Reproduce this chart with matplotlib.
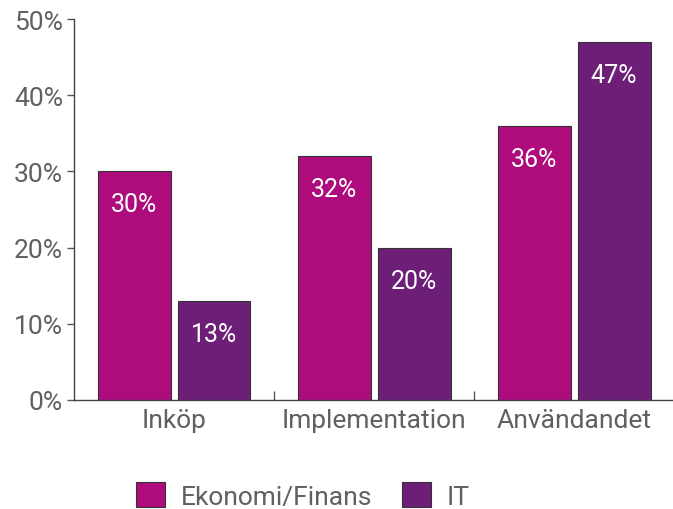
import matplotlib.pyplot as plt
import numpy as np
from matplotlib.patches import Patch

# data
categories = ["Inköp", "Implementation", "Användandet"]
series_names = ["Ekonomi/Finans", "IT"]
ekonomi = [30, 32, 36]
it_vals = [13, 20, 47]
yticks = [0, 10, 20, 30, 40, 50]

col_eko = "#AE0C7D"
col_it = "#6D1F78"
txt_col = "#606060"

plt.rcParams['font.family'] = ['Roboto', 'DejaVu Sans']

fig = plt.figure(figsize=(6.73, 5.10), dpi=100)
ax = fig.add_axes([74 / 673, 109 / 510, 600 / 673, 381 / 510])

x = np.arange(len(categories))
w = 0.365
b1 = ax.bar(x - 0.2, ekonomi, w, color=col_eko, edgecolor="#333333", linewidth=0.8)
b2 = ax.bar(x + 0.2, it_vals, w, color=col_it, edgecolor="#333333", linewidth=0.8)

for bars, vals in ((b1, ekonomi), (b2, it_vals)):
    for rect, v in zip(bars, vals):
        ax.annotate(f"{v}%", (rect.get_x() + rect.get_width() / 2, v),
                    xytext=(0, -33), textcoords="offset pixels",
                    ha="center", va="center", color="white", fontsize=18)

ax.set_xlim(-0.5, 2.5)
ax.set_ylim(0, 50)
ax.set_yticks(yticks)
ax.set_yticklabels([f"{t}%" for t in yticks])
ax.tick_params(axis="y", direction="out", length=5, width=1, color="#555555",
               labelsize=19, labelcolor=txt_col, pad=3)

# category boundary ticks (pointing up) and labels
ax.set_xticks([0.5, 1.5, 2.5])
ax.set_xticklabels([])
ax.set_xticks(x, minor=True)
ax.set_xticklabels(categories, minor=True)
ax.tick_params(axis="x", which="major", direction="in", length=6.5, width=1, color="#555555")
ax.tick_params(axis="x", which="minor", length=0, labelsize=19, labelcolor=txt_col, pad=6)

for s in ("top", "right"):
    ax.spines[s].set_visible(False)
for s in ("left", "bottom"):
    ax.spines[s].set_color("#444444")
    ax.spines[s].set_linewidth(1)

handles = [Patch(facecolor=col_eko, edgecolor="#333333", linewidth=0.8),
           Patch(facecolor=col_it, edgecolor="#333333", linewidth=0.8)]
leg = fig.legend(handles, series_names, loc="center", bbox_to_anchor=(0.45, 0.027),
                 ncol=2, frameon=False, fontsize=19, handlelength=1.1, handleheight=1.1,
                 handletextpad=0.6, columnspacing=1.1)
for t in leg.get_texts():
    t.set_color(txt_col)

fig.savefig("out.png", dpi=100)
